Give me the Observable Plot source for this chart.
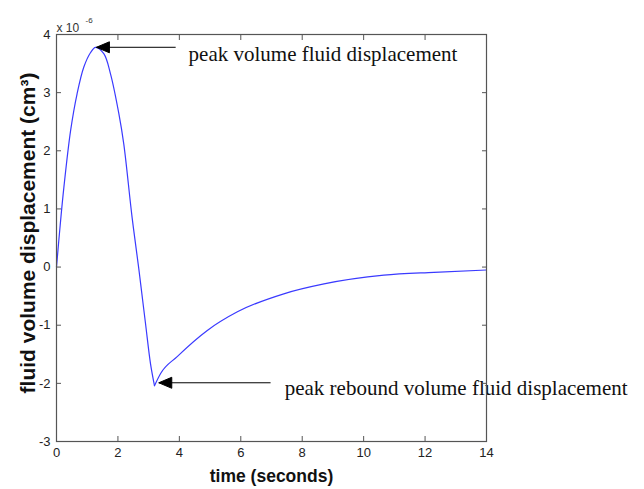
<!DOCTYPE html>
<html>
<head>
<meta charset="utf-8">
<script src="https://cdn.jsdelivr.net/npm/d3@7"></script>
<script src="https://cdn.jsdelivr.net/npm/@observablehq/plot@0.6"></script>
<style>
  html, body { margin: 0; padding: 0; background: #fff; }
  #chart svg { display: block; }
</style>
</head>
<body>
<div id="chart"></div>
<script>
// time in seconds, volume in units of 1e-6 cm^3
const riseTime   = [0, 0.12, 0.24, 0.46, 0.67, 0.89, 1.11, 1.27, 1.54, 1.76, 2.03, 2.19, 2.46, 2.68, 2.74, 2.90, 3.06, 3.19];
const riseVolume = [0, 0.72, 1.37, 2.35, 2.98, 3.44, 3.69, 3.78, 3.67, 3.32, 2.64, 2.12, 0.86, -0.03, -0.29, -0.98, -1.66, -2.04];
const decayTime   = [3.19, 3.39, 3.93, 4.91, 5.89, 7.40, 8.71, 10.66, 12.29, 14];
const decayVolume = [-2.04, -1.83, -1.54, -1.09, -0.77, -0.46, -0.29, -0.14, -0.09, -0.05];
const xTicks = [0, 2, 4, 6, 8, 10, 12, 14];
const yTicks = [-3, -2, -1, 0, 1, 2, 3, 4];
const xLabel = "time (seconds)";
const yLabel = "fluid volume displacement (cm³)";
const annotations = [
  {text: "peak volume fluid displacement", tipX: 1.30, tipY: 3.78, fromX: 3.88, textX: 4.30, textY: 3.66},
  {text: "peak rebound volume fluid displacement", tipX: 3.33, tipY: -1.99, fromX: 6.97, textX: 7.43, textY: -2.08}
];

const rise = riseTime.map((t, i) => ({t, v: riseVolume[i]}));
const decay = decayTime.map((t, i) => ({t, v: decayVolume[i]}));

function filledArrow(color, context) {
  const m = d3.create("svg:marker")
    .attr("viewBox", "-14 -7 15 14")
    .attr("markerWidth", 15)
    .attr("markerHeight", 14)
    .attr("markerUnits", "userSpaceOnUse")
    .attr("orient", "auto")
    .attr("refX", 0)
    .attr("refY", 0);
  m.append("path").attr("d", "M0,0L-13,-5.5L-13,5.5Z").attr("fill", color);
  return m.node();
}

const axisColor = "#555";
const fmt = d => d.toString();
const blue = "#3a3aff";

const chart = Plot.plot({
  width: 644,
  height: 489,
  marginLeft: 56,
  marginRight: 158,
  marginTop: 34,
  marginBottom: 48,
  style: {fontFamily: "Liberation Sans, Arial, sans-serif", background: "#fff"},
  x: {domain: [0, 14]},
  y: {domain: [-3, 4]},
  marks: [
    Plot.line(rise, {x: "t", y: "v", stroke: blue, strokeWidth: 1.2, curve: "catmull-rom"}),
    Plot.line(decay, {x: "t", y: "v", stroke: blue, strokeWidth: 1.2, curve: "monotone-x"}),
    Plot.link(annotations, {x1: "fromX", y1: "tipY", x2: "tipX", y2: "tipY", stroke: "#000", strokeWidth: 1, markerEnd: filledArrow}),
    Plot.text(annotations, {x: "textX", y: "textY", text: "text", textAnchor: "start", lineAnchor: "middle", fontFamily: "Liberation Serif, Times New Roman, serif", fontSize: 21, fill: "#111", clip: false}),
    // inward ticks on all four sides
    Plot.axisX(xTicks, {anchor: "bottom", tickSize: -5, tickFormat: () => "", stroke: axisColor, label: null}),
    Plot.axisX(xTicks, {anchor: "top", tickSize: -5, tickFormat: () => "", stroke: axisColor, label: null}),
    Plot.axisY(yTicks, {anchor: "left", tickSize: -5, tickFormat: () => "", stroke: axisColor, label: null}),
    Plot.axisY(yTicks, {anchor: "right", tickSize: -5, tickFormat: () => "", stroke: axisColor, label: null}),
    // tick labels
    Plot.axisX(xTicks, {anchor: "bottom", tickSize: 0, tickPadding: 6, tickFormat: fmt, fontSize: 13, fill: "#222", label: null}),
    Plot.axisY(yTicks, {anchor: "left", tickSize: 0, tickPadding: 6, tickFormat: fmt, fontSize: 13, fill: "#222", label: null}),
    Plot.frame({stroke: axisColor, strokeWidth: 1.2}),
    // axis titles
    Plot.text([xLabel], {frameAnchor: "bottom", text: d => d, dy: 40, fontSize: 17.5, fontWeight: "bold", fill: "#111"}),
    Plot.text([yLabel], {frameAnchor: "left", text: d => d, textAnchor: "middle", rotate: -90, dx: -28, dy: -5, fontSize: 21, fontWeight: "bold", fill: "#111"}),
    // exponent
    Plot.text(["x 10"], {frameAnchor: "top-left", text: d => d, textAnchor: "start", dy: -11, fontSize: 12, fill: "#333"}),
    Plot.text(["-6"], {frameAnchor: "top-left", text: d => d, textAnchor: "start", dx: 29, dy: -17, fontSize: 8, fill: "#333"})
  ]
});

document.getElementById("chart").appendChild(chart);
</script>
</body>
</html>
